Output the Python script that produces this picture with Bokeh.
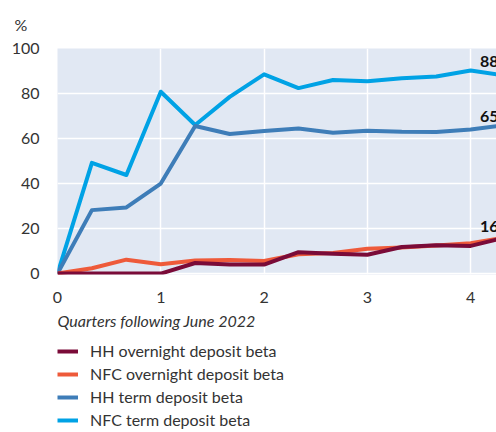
from bokeh.plotting import figure
from bokeh.layouts import column
from bokeh.models import Range1d, Label, Legend, LegendItem, FixedTicker, Title
from bokeh.embed import file_html
from bokeh.resources import INLINE

quarters = [0, 0.333, 0.667, 1, 1.333, 1.667, 2, 2.333, 2.667, 3, 3.333, 3.667, 4, 4.333]
hh_overnight = [0, 0, 0, 0, 4.7, 4.0, 4.0, 9.5, 8.8, 8.4, 11.8, 12.6, 12.3, 16]
nfc_overnight = [0, 2.4, 6.2, 4.2, 5.8, 6.0, 5.6, 8.6, 9.2, 11.0, 11.6, 12.5, 13.5, 16]
hh_term = [0, 28.2, 29.4, 40.0, 65.6, 62.0, 63.4, 64.5, 62.6, 63.5, 63.0, 62.9, 64.0, 66]
nfc_term = [0, 49.2, 43.8, 80.8, 66.0, 78.5, 88.5, 82.4, 86.0, 85.5, 86.8, 87.6, 90.2, 88]
end_labels = ["88", "65", "16"]
end_label_y = [88, 65, 16]
series_names = ["HH overnight deposit beta", "NFC overnight deposit beta",
                "HH term deposit beta", "NFC term deposit beta"]
x_ticks = [0, 1, 2, 3, 4]
y_ticks = [0, 20, 40, 60, 80, 100]

FONT = "Lato"
TXT = "#333333"
colors = ["#7A0B38", "#EE5A3A", "#3E7DB8", "#00A2E5"]
label_lift = [4.0, 2.5, 2.5]

p = figure(frame_width=439, frame_height=226, output_backend="svg", toolbar_location=None,
           x_range=Range1d(0, 4.25), y_range=Range1d(-0.4, 100),
           min_border_left=57, min_border_right=0, min_border_top=48, min_border_bottom=61)
p.outline_line_color = None
p.background_fill_color = "#E1E8F3"
p.border_fill_color = "white"

p.title.text = "%"
p.title.align = "left"
p.title.offset = -43
p.title.standoff = 26
p.title.vertical_align = "top"
p.title.text_font = FONT
p.title.text_font_size = "16px"
p.title.text_font_style = "normal"
p.title.text_color = TXT

for ax in (p.xaxis[0], p.yaxis[0]):
    ax.axis_line_color = None
    ax.major_tick_line_color = None
    ax.minor_tick_line_color = None
    ax.major_label_text_font = FONT
    ax.major_label_text_font_size = "16px"
    ax.major_label_text_color = TXT
p.xaxis[0].ticker = FixedTicker(ticks=x_ticks)
p.yaxis[0].ticker = FixedTicker(ticks=y_ticks)
p.xaxis[0].major_label_standoff = 11
p.yaxis[0].major_label_standoff = 12

p.xgrid.ticker = FixedTicker(ticks=x_ticks)
p.ygrid.ticker = FixedTicker(ticks=y_ticks)
p.grid.grid_line_color = "white"
p.grid.grid_line_width = 1.5

series = [hh_overnight, nfc_overnight, hh_term, nfc_term]
for i in [3, 2, 1, 0]:
    p.line(quarters, series[i], line_color=colors[i], line_width=4, line_join="round")

for t, yv, lift in zip(end_labels, end_label_y, label_lift):
    p.add_layout(Label(x=4.09, y=yv + lift, text=t, text_font=FONT, text_font_size="16px",
                       text_font_style="bold", text_color="#111111",
                       text_baseline="bottom", text_align="left"))

xtitle = Title(text="Quarters following June 2022", align="left", offset=0, standoff=6,
               text_font=FONT, text_font_size="16px", text_font_style="italic",
               text_color=TXT)
p.add_layout(xtitle, "below")

# legend strip (swatches come from one-point lines that draw nothing themselves)
lg = figure(width=496, height=97, output_backend="svg", toolbar_location=None,
            x_range=Range1d(0, 1), y_range=Range1d(0, 1),
            min_border=0, min_border_left=0, min_border_right=0,
            min_border_top=0, min_border_bottom=0)
lg.axis.visible = False
lg.grid.visible = False
lg.outline_line_color = None
lg.background_fill_color = "white"
lg.border_fill_color = "white"
lg_renderers = [lg.line([quarters[0]], [s[0]], line_color=c, line_width=4)
                for s, c in zip(series, colors)]
legend = Legend(items=[LegendItem(label=n, renderers=[r]) for n, r in zip(series_names, lg_renderers)],
                location=(0, 3), orientation="vertical",
                label_text_font=FONT, label_text_font_size="16px", label_text_color=TXT,
                glyph_width=21, glyph_height=18, label_height=18, label_standoff=12,
                spacing=4, padding=0, margin=0,
                background_fill_alpha=0, border_line_color=None)
lg.add_layout(legend, "center")

open("out.html", "w").write(file_html(column(p, lg, spacing=0), INLINE))
